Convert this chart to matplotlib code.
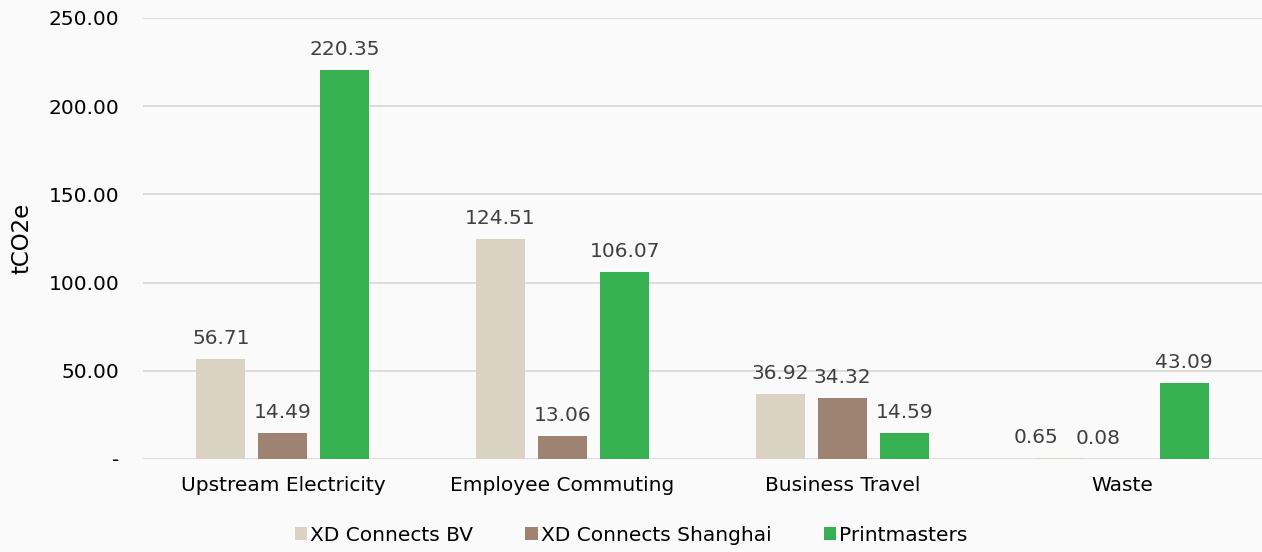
import numpy as np
import matplotlib.pyplot as plt
from matplotlib.ticker import FuncFormatter

plt.rcParams['font.family'] = ['DejaVu Sans']

# data
categories = ['Upstream Electricity', 'Employee Commuting', 'Business Travel', 'Waste']
series_names = ['XD Connects BV', 'XD Connects Shanghai', 'Printmasters']
bv = [56.71, 124.51, 36.92, 0.65]
shanghai = [14.49, 13.06, 34.32, 0.08]
printmasters = [220.35, 106.07, 14.59, 43.09]
colors = ['#DAD2C2', '#9E8372', '#36B050']

fig = plt.figure(figsize=(12.62, 5.52), dpi=100, facecolor='#fafafa')
ax = fig.add_axes([0.1133, 0.1685, 0.8867, 0.7989], facecolor='#fafafa')

x = np.arange(len(categories))
width = 0.175
step = 0.222
for i, (vals, name) in enumerate(zip([bv, shanghai, printmasters], series_names)):
    pos = x + (i - 1) * step
    bars = ax.bar(pos, vals, width, color=colors[i], label=name, zorder=3)
    for b, v in zip(bars, vals):
        # excel nudges the labels of near-zero bars a bit to the left
        dx = -17 if v < 1 else 0
        ax.annotate(f'{v:.2f}', (b.get_x() + b.get_width() / 2, v),
                    xytext=(dx, 8), textcoords='offset points',
                    ha='center', va='bottom', fontsize=14.5, color='#404040')

ax.set_xlim(-0.5, 3.5)
ax.set_ylim(0, 250)
ax.set_yticks([0, 50, 100, 150, 200, 250])
ax.yaxis.set_major_formatter(FuncFormatter(lambda v, p: '-' if v == 0 else f'{v:.2f}'))
ax.grid(axis='y', color='#d9d9d9', linewidth=1.3, zorder=0)
for s in ax.spines.values():
    s.set_visible(False)
ax.tick_params(axis='both', length=0, labelsize=14.5, colors='black')
ax.tick_params(axis='y', pad=17)
ax.tick_params(axis='x', pad=12)
ax.set_xticks(x)
ax.set_xticklabels(categories)
ax.set_ylabel('tCO2e', fontsize=16.5, labelpad=11)

fig.legend(loc='lower center', bbox_to_anchor=(0.5, -0.02), ncol=3, frameon=False,
           fontsize=14.5, handlelength=0.6, handleheight=0.6, handletextpad=0.15,
           columnspacing=2.6)

fig.savefig('out.png', dpi=100, facecolor=fig.get_facecolor())
